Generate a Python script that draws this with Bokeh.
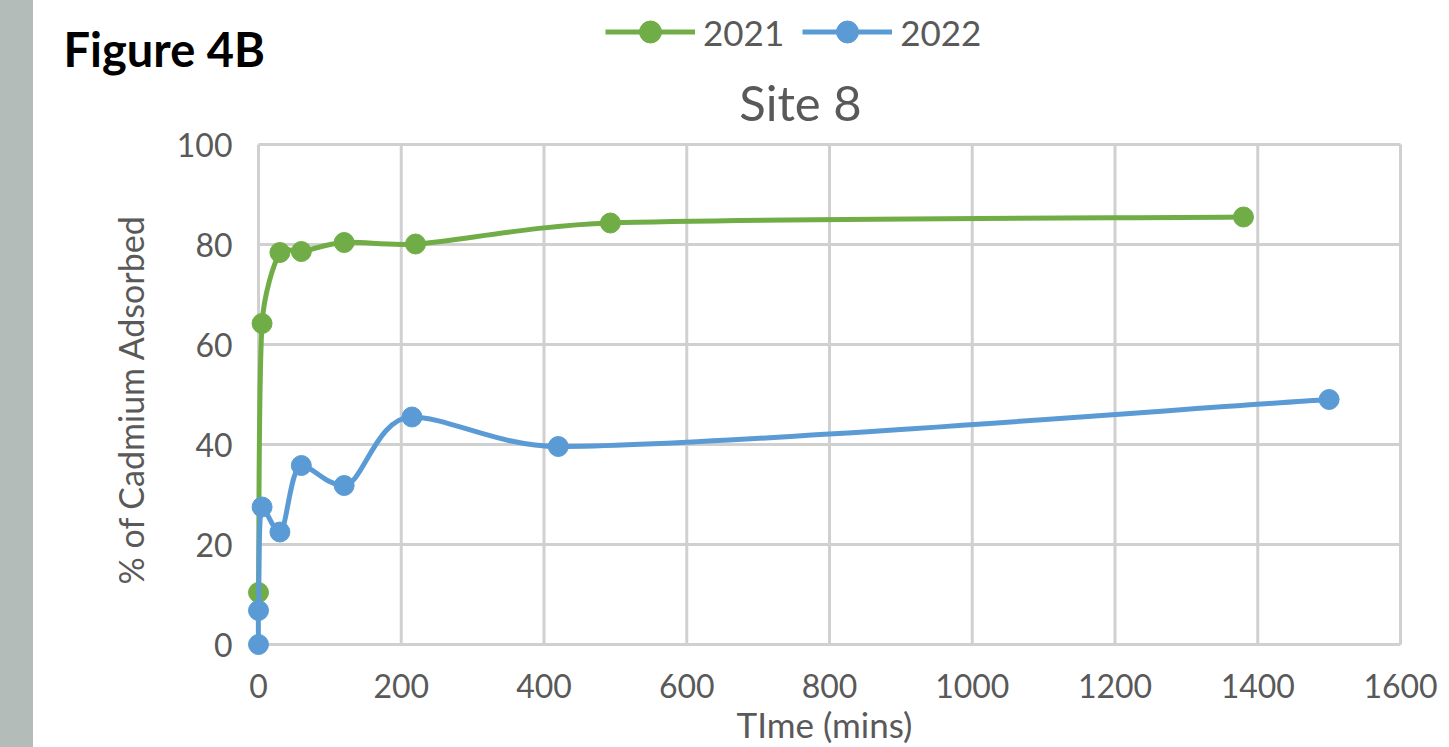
import math

from bokeh.plotting import figure
from bokeh.models import Label, Legend, LegendItem, Div, Range1d
from bokeh.layouts import row, column
from bokeh.embed import file_html
from bokeh.resources import INLINE

# Adsorption kinetics, Site 8
time_2021 = [0, 5, 30, 60, 120, 220, 493, 1380]
pct_2021 = [10.4, 64.2, 78.4, 78.6, 80.4, 80.1, 84.3, 85.5]

time_2022 = [0, 0, 5, 30, 60, 120, 215, 420, 1500]
pct_2022 = [0.0, 6.8, 27.5, 22.5, 35.8, 31.8, 45.5, 39.6, 49.0]

x_ticks = [0, 200, 400, 600, 800, 1000, 1200, 1400, 1600]
y_ticks = [0, 20, 40, 60, 80, 100]

FONT = "Lato"
TEXT_GRAY = "#595959"
GRID_GRAY = "#d0d0d0"
GREEN = "#70AD47"
BLUE = "#5B9BD5"

FULL_W = 1416
HEAD_H = 131          # header canvas height
OVERLAP = 8           # chart canvas slides up under the header by this much
FRAME_W, FRAME_H = 1142, 500          # px spanned by the 0..1600 x 0..100 box
X_MAX, Y_MAX = 1600, 100
KX, KY = FRAME_W / X_MAX, FRAME_H / Y_MAX
PAD_LB, PAD_RT = 12, 2                # px of room around the box so markers on it show whole


def smooth_segments(xs, ys):
    """Cubic Bezier pieces through the points: Catmull-Rom tangents,
    flattened at clear peaks/dips and limited to a share of each segment."""
    n = len(xs)
    tan = []
    for i in range(n):
        a, b = max(i - 1, 0), min(i + 1, n - 1)
        tx = (xs[b] - xs[a]) / 6 * KX
        ty = (ys[b] - ys[a]) / 6 * KY
        if 0 < i < n - 1:
            d1, d2 = ys[i] - ys[a], ys[b] - ys[i]
            if d1 * d2 < 0 and abs(d1) > 1 and abs(d2) > 1:
                ty = 0.0
        tan.append((tx, ty))

    def handle(t, length):
        m = math.hypot(*t)
        lim = 0.4 * length
        if m > lim and m > 0:
            return t[0] * lim / m, t[1] * lim / m
        return t

    seg = dict(x0=[], y0=[], x1=[], y1=[], cx0=[], cy0=[], cx1=[], cy1=[])
    for i in range(n - 1):
        L = math.hypot((xs[i + 1] - xs[i]) * KX, (ys[i + 1] - ys[i]) * KY)
        h0 = handle(tan[i], L)
        h1 = handle(tan[i + 1], L)
        seg["x0"].append(xs[i]); seg["y0"].append(ys[i])
        seg["x1"].append(xs[i + 1]); seg["y1"].append(ys[i + 1])
        seg["cx0"].append(xs[i] + h0[0] / KX); seg["cy0"].append(ys[i] + h0[1] / KY)
        seg["cx1"].append(xs[i + 1] - h1[0] / KX); seg["cy1"].append(ys[i + 1] - h1[1] / KY)
    return seg


# ---- header: figure label, legend and chart title ----
head = figure(
    width=FULL_W, height=HEAD_H, x_range=Range1d(0, 1), y_range=Range1d(0, 1),
    x_axis_type=None, y_axis_type=None, output_backend="svg",
    toolbar_location=None, min_border=0, outline_line_color=None,
    background_fill_color="white", border_fill_color="white",
)
head.grid.visible = False

# legend keys (no visible data in the header)
nan = [float("nan")]
leg_g_line = head.line(nan, nan, line_color=GREEN, line_width=5)
leg_g_pt = head.scatter(nan, nan, size=20, fill_color=GREEN, line_color=GREEN)
leg_b_line = head.line(nan, nan, line_color=BLUE, line_width=5)
leg_b_pt = head.scatter(nan, nan, size=20, fill_color=BLUE, line_color=BLUE)

legend = Legend(
    items=[LegendItem(label="2021", renderers=[leg_g_line, leg_g_pt]),
           LegendItem(label="2022", renderers=[leg_b_line, leg_b_pt])],
    location=(572, 72), orientation="horizontal",
    glyph_width=90, glyph_height=55, label_height=55,
    label_standoff=8, spacing=18, padding=0, margin=0,
    border_line_color=None, background_fill_alpha=0,
    label_text_font=FONT, label_text_font_size="35px",
    label_text_color=TEXT_GRAY,
)
head.add_layout(legend)

head.add_layout(Label(
    x=30, y=83, x_units="screen", y_units="screen",
    text="Figure 4B", text_font=FONT, text_font_size="47px",
    text_font_style="bold", text_color="black", text_baseline="alphabetic",
))
head.add_layout(Label(
    x=767, y=30, x_units="screen", y_units="screen",
    text="Site 8", text_font=FONT, text_font_size="49px",
    text_color=TEXT_GRAY, text_align="center", text_baseline="alphabetic",
))

# ---- main chart ----
chart_top = HEAD_H - OVERLAP
p = figure(
    width=FULL_W, height=747 - chart_top,
    x_range=Range1d(-PAD_LB / KX, X_MAX + PAD_RT / KX),
    y_range=Range1d(-PAD_LB / KY, Y_MAX + PAD_RT / KY),
    output_backend="svg", toolbar_location=None,
    min_border_left=225 - PAD_LB, min_border_right=49 - PAD_RT,
    min_border_top=144 - PAD_RT - chart_top, min_border_bottom=103 - PAD_LB,
    background_fill_color="white", border_fill_alpha=0,
    outline_line_color=None,
    margin=(-OVERLAP, 0, 0, 0),
)
p.xgrid.visible = False
p.ygrid.visible = False

for ax in (p.xaxis[0], p.yaxis[0]):
    ax.axis_line_color = None
    ax.major_tick_line_color = None
    ax.minor_tick_line_color = None
    ax.major_label_text_font = FONT
    ax.major_label_text_font_size = "32px"
    ax.major_label_text_color = TEXT_GRAY
    ax.axis_label_text_font = FONT
    ax.axis_label_text_font_style = "normal"
    ax.axis_label_text_color = TEXT_GRAY

p.xaxis.ticker = x_ticks
p.yaxis.ticker = y_ticks
p.xaxis.axis_label = "TIme (mins)"
p.yaxis.axis_label = "% of Cadmium Adsorbed"
p.xaxis.axis_label_text_font_size = "35px"
p.yaxis.axis_label_text_font_size = "34px"
p.xaxis.major_label_standoff = 23 - PAD_LB
p.xaxis.axis_label_standoff = 2
p.yaxis.major_label_standoff = 20 - PAD_LB
p.yaxis.axis_label_standoff = 23

# gridlines spanning exactly the 0..1600 x 0..100 box
nx, ny = len(x_ticks), len(y_ticks)
p.segment(x0=x_ticks, y0=[y_ticks[0]] * nx, x1=x_ticks, y1=[y_ticks[-1]] * nx,
          line_color=GRID_GRAY, line_width=3)
p.segment(x0=[x_ticks[0]] * ny, y0=y_ticks, x1=[x_ticks[-1]] * ny, y1=y_ticks,
          line_color=GRID_GRAY, line_width=3)

s21 = smooth_segments(time_2021, pct_2021)
s22 = smooth_segments(time_2022, pct_2022)

p.bezier(x0="x0", y0="y0", x1="x1", y1="y1", cx0="cx0", cy0="cy0",
         cx1="cx1", cy1="cy1", source=s21, line_color=GREEN, line_width=5)
p.scatter(time_2021, pct_2021, size=20, fill_color=GREEN, line_color=GREEN)

p.bezier(x0="x0", y0="y0", x1="x1", y1="y1", cx0="cx0", cy0="cy0",
         cx1="cx1", cy1="cy1", source=s22, line_color=BLUE, line_width=5)
p.scatter(time_2022, pct_2022, size=20, fill_color=BLUE, line_color=BLUE)

side_bar = Div(width=33, height=747, margin=0,
               styles={"background-color": "#b3bcb8"})

layout = row(side_bar, column(column(head), p, spacing=0), spacing=0)

open("out.html", "w").write(file_html(layout, INLINE))
